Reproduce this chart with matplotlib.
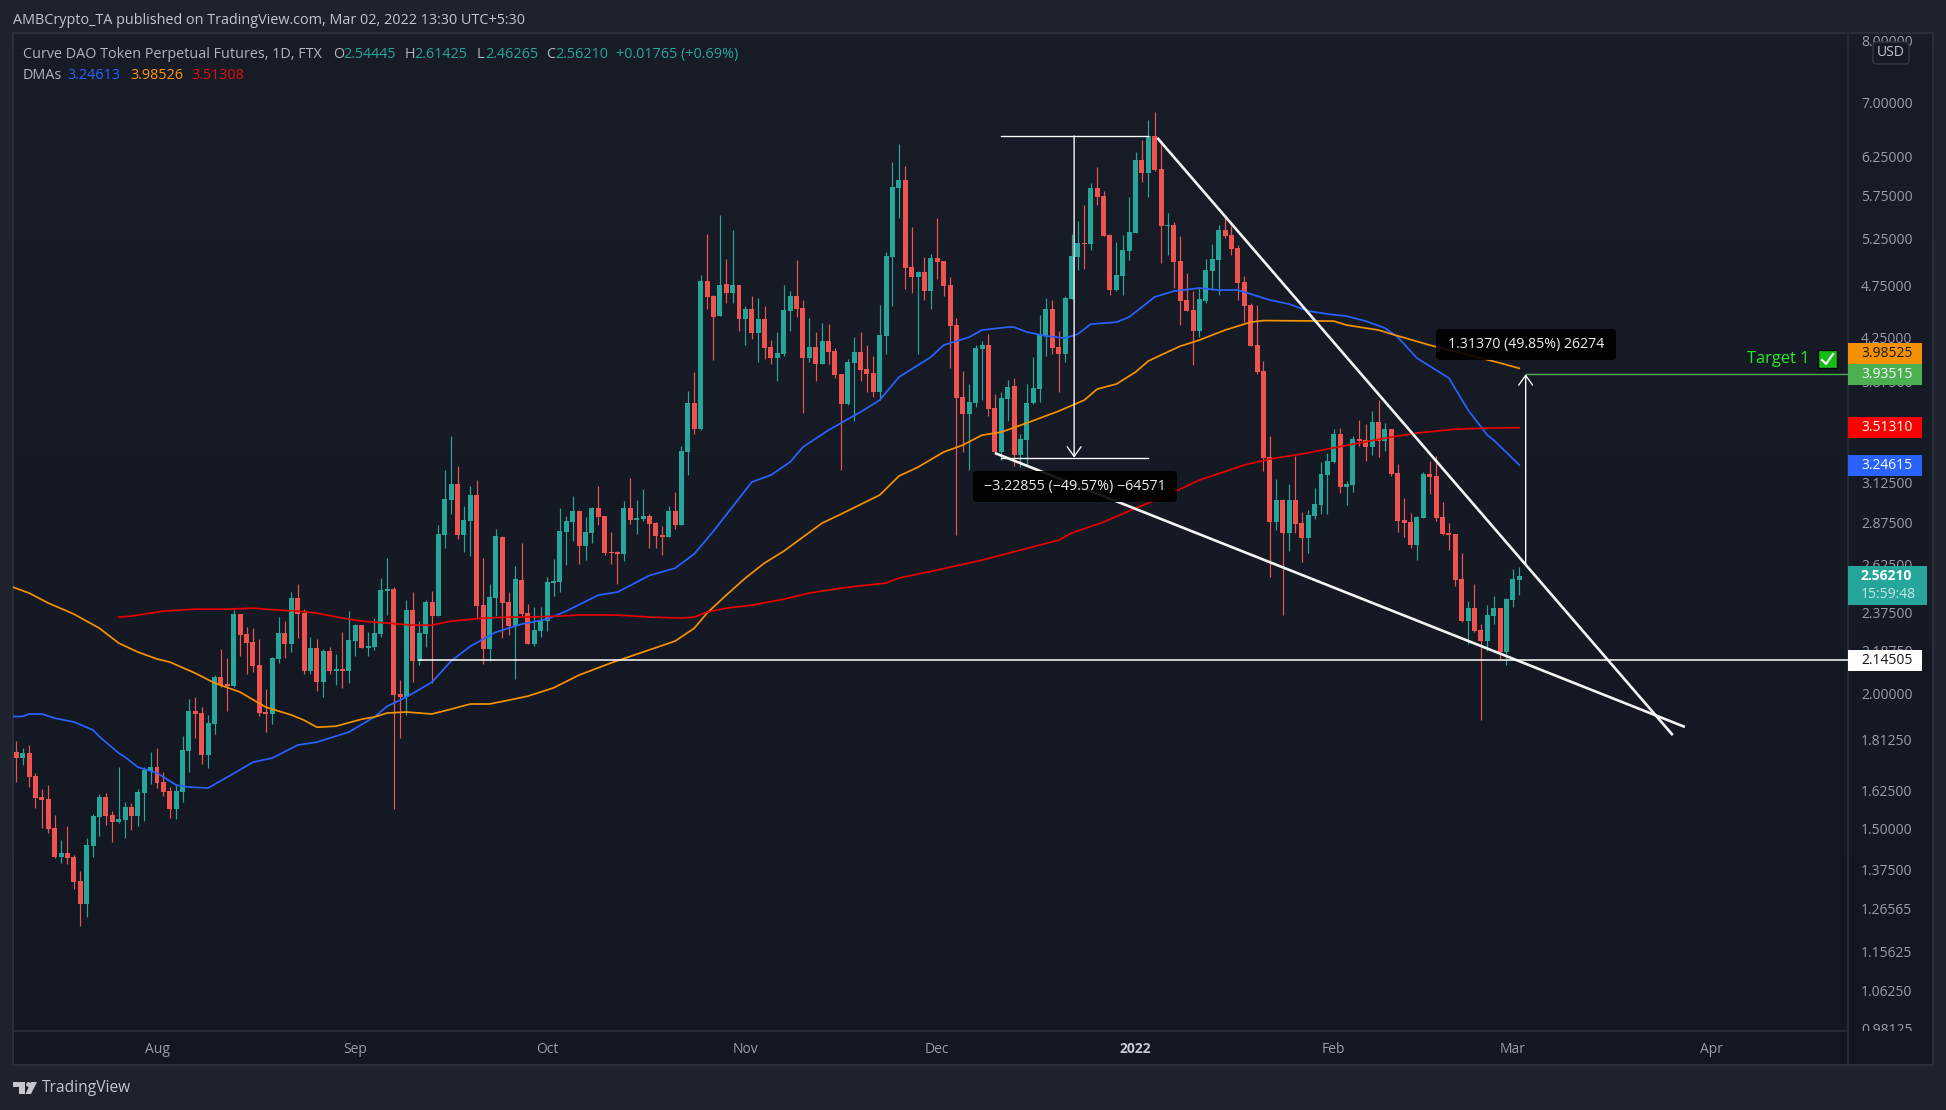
import matplotlib
matplotlib.use("Agg")
import matplotlib.pyplot as plt
from matplotlib.colors import LinearSegmentedColormap
from matplotlib.patches import Rectangle, FancyBboxPatch, Circle, Polygon
from matplotlib.transforms import Bbox
import numpy as np

plt.rcParams['font.family'] = ['Open Sans', 'DejaVu Sans']

# daily candles, 2021-07-10 to 2022-03-02
opens = [
    1.765,1.742,1.761,1.677,1.604,1.597,1.501,1.412,1.424,1.412,
    1.342,1.278,1.445,1.537,1.604,1.544,1.521,1.527,1.570,1.540,
    1.617,1.695,1.709,1.656,1.624,1.563,1.621,1.768,1.925,1.917,
    1.754,1.873,2.069,2.039,2.030,2.365,2.267,2.229,2.122,1.921,
    1.913,2.150,2.272,2.219,2.446,2.370,2.095,2.200,2.047,2.186,
    2.095,2.104,2.095,2.233,2.310,2.200,2.205,2.267,2.484,2.494,
    1.996,1.983,2.385,2.141,2.267,2.426,2.355,2.797,3.013,3.116,
    2.797,2.881,3.045,2.410,2.196,2.446,2.785,2.426,2.305,2.542,
    2.370,2.219,2.281,2.330,2.526,2.531,2.815,2.875,2.943,2.732,
    2.809,2.961,2.912,2.698,2.698,2.687,2.961,2.887,2.893,2.912,
    2.869,2.797,2.785,2.943,2.857,3.336,3.702,3.502,4.796,4.647,
    4.452,4.765,4.676,4.755,4.424,4.520,4.295,4.424,4.169,4.072,
    4.107,4.500,4.647,4.529,4.072,4.169,4.021,4.222,4.133,3.937,
    3.694,4.030,4.125,3.978,3.945,3.789,4.268,5.048,5.844,5.944,
    4.941,4.837,4.889,4.695,5.037,5.004,4.755,4.368,3.749,3.616,
    3.702,4.151,4.186,3.662,3.336,3.733,3.837,3.315,3.422,3.702,
    3.813,4.268,4.520,4.169,4.107,4.617,5.048,5.200,5.189,5.844,
    5.745,5.288,4.705,4.848,5.112,5.311,6.202,6.033,6.526,6.085,
    5.391,5.402,5.004,4.607,4.510,4.313,4.597,4.900,5.015,5.345,
    5.288,5.145,4.785,4.558,4.186,3.962,3.301,2.875,3.013,2.809,
    3.013,2.869,2.779,2.912,2.981,3.177,3.266,3.465,3.097,3.110,
    3.429,3.422,3.372,3.555,3.415,3.502,3.191,2.887,2.875,2.738,
    2.900,3.184,3.170,2.906,2.809,2.802,2.547,2.330,2.395,2.286,
    2.233,2.355,2.395,2.182,2.436,2.544]
highs = [
    1.806,1.780,1.791,1.688,1.631,1.645,1.544,1.464,1.508,1.418,
    1.371,1.470,1.547,1.614,1.617,1.557,1.709,1.587,1.584,1.631,
    1.709,1.765,1.780,1.691,1.638,1.649,1.825,1.975,1.983,1.941,
    1.909,2.078,2.196,2.154,2.385,2.365,2.300,2.295,2.243,2.017,
    2.158,2.350,2.330,2.478,2.520,2.390,2.252,2.243,2.196,2.205,
    2.172,2.276,2.380,2.315,2.310,2.276,2.345,2.553,2.662,2.504,
    2.056,2.436,2.478,2.330,2.436,2.484,2.857,3.211,3.452,3.238,
    2.974,3.103,3.143,2.663,2.520,2.833,2.791,2.478,2.619,2.750,
    2.416,2.400,2.400,2.558,2.657,2.961,2.912,3.038,2.949,2.906,
    2.967,3.103,2.912,2.815,2.703,3.007,3.156,3.013,3.084,2.925,
    2.875,2.851,2.974,3.064,3.379,3.797,3.953,4.858,5.300,4.657,
    5.518,5.026,5.345,4.755,4.548,4.647,4.627,4.548,4.231,4.304,
    4.755,4.695,5.015,4.607,4.434,4.304,4.386,4.377,4.160,3.937,
    4.064,4.258,4.304,4.186,4.090,4.558,5.101,6.175,6.415,6.122,
    5.380,4.900,5.048,5.080,5.483,5.004,4.837,4.434,3.962,3.854,
    4.186,4.222,4.286,3.773,3.789,3.887,3.903,3.465,3.854,4.081,
    4.462,4.627,4.607,4.313,4.647,5.300,5.448,5.637,5.906,6.109,
    5.807,5.300,5.211,5.288,5.733,6.308,6.471,6.752,6.867,6.443,
    5.541,5.437,5.277,4.879,4.695,4.735,5.026,5.189,5.402,5.507,
    5.391,5.178,4.848,4.577,4.558,4.047,3.451,3.150,3.019,3.116,
    3.308,2.937,2.949,3.090,3.266,3.329,3.502,3.510,3.136,3.451,
    3.570,3.540,3.639,3.725,3.547,3.502,3.252,3.026,2.931,2.912,
    3.197,3.273,3.308,3.000,2.869,2.802,2.692,2.431,2.520,2.315,
    2.410,2.456,2.395,2.446,2.602,2.614]
lows = [
    1.656,1.716,1.638,1.567,1.501,1.486,1.409,1.394,1.391,1.320,
    1.219,1.243,1.412,1.476,1.511,1.458,1.518,1.470,1.495,1.508,
    1.524,1.649,1.635,1.608,1.534,1.530,1.587,1.691,1.818,1.720,
    1.705,1.834,2.026,1.925,2.026,2.163,2.082,2.091,1.905,1.841,
    1.873,2.132,2.154,2.182,2.248,2.082,2.082,2.009,1.983,2.082,
    2.034,2.022,2.043,2.163,2.200,2.163,2.191,2.252,2.360,1.563,
    1.818,1.909,2.047,2.122,2.205,2.043,2.355,2.720,2.925,2.773,
    2.698,2.675,2.340,2.127,2.141,2.355,2.248,2.262,2.060,2.355,
    2.219,2.209,2.252,2.281,2.456,2.478,2.624,2.761,2.630,2.652,
    2.750,2.857,2.681,2.630,2.520,2.647,2.863,2.802,2.881,2.720,
    2.720,2.681,2.785,2.833,2.857,3.177,3.465,3.495,4.520,4.055,
    4.452,4.577,4.577,4.313,4.186,4.240,4.038,4.064,4.021,3.879,
    4.090,4.313,4.443,3.624,4.038,3.879,4.021,4.021,3.903,3.211,
    3.686,3.562,3.879,3.789,3.749,3.725,4.107,4.548,5.483,4.715,
    4.676,4.107,4.607,4.520,4.816,4.647,3.987,2.797,3.336,3.211,
    3.670,3.725,3.600,3.329,3.280,3.562,3.238,3.231,3.238,3.694,
    3.710,4.090,4.107,3.789,4.038,4.617,4.910,4.920,5.123,5.637,
    5.277,4.656,4.695,4.656,5.015,5.311,5.919,5.733,6.060,4.984,
    5.069,4.725,4.368,4.500,4.013,4.258,4.577,4.705,4.656,5.255,
    5.069,4.607,4.395,4.177,3.937,3.204,2.558,2.827,2.360,2.703,
    2.809,2.641,2.692,2.893,2.925,2.925,3.259,3.058,2.981,3.064,
    3.379,3.273,3.315,3.301,3.343,3.170,2.815,2.785,2.720,2.652,
    2.900,3.051,2.881,2.797,2.709,2.510,2.325,2.219,2.276,1.888,
    2.186,2.315,2.150,2.122,2.400,2.463]
closes = [
    1.742,1.761,1.673,1.601,1.594,1.498,1.412,1.424,1.409,1.339,
    1.278,1.448,1.540,1.604,1.540,1.521,1.530,1.570,1.540,1.621,
    1.698,1.709,1.652,1.621,1.563,1.624,1.772,1.925,1.913,1.754,
    1.877,2.069,2.034,2.030,2.365,2.262,2.224,2.117,1.917,1.913,
    2.154,2.272,2.219,2.446,2.365,2.095,2.200,2.047,2.186,2.095,
    2.104,2.095,2.238,2.310,2.200,2.209,2.272,2.489,2.494,1.992,
    1.983,2.385,2.141,2.272,2.426,2.355,2.802,3.019,3.116,2.797,
    2.887,3.045,2.405,2.196,2.451,2.791,2.421,2.305,2.547,2.365,
    2.219,2.286,2.335,2.531,2.537,2.821,2.881,2.943,2.732,2.815,
    2.961,2.906,2.692,2.692,2.687,2.961,2.887,2.900,2.912,2.863,
    2.791,2.785,2.943,2.857,3.343,3.702,3.502,4.796,4.637,4.443,
    4.755,4.676,4.755,4.424,4.520,4.295,4.424,4.160,4.072,4.116,
    4.510,4.647,4.520,4.072,4.169,4.021,4.222,4.125,3.929,3.694,
    4.038,4.125,3.970,3.937,3.789,4.277,5.058,5.856,5.944,4.931,
    4.837,4.889,4.695,5.037,4.994,4.745,4.358,3.741,3.616,3.710,
    4.160,4.186,3.655,3.336,3.741,3.829,3.315,3.429,3.702,3.821,
    4.277,4.520,4.160,4.107,4.627,5.058,5.200,5.189,5.844,5.733,
    5.277,4.705,4.858,5.123,5.322,6.202,6.033,6.526,6.072,5.391,
    5.402,4.994,4.597,4.500,4.313,4.617,4.910,5.026,5.345,5.277,
    5.134,4.775,4.548,4.177,3.953,3.294,2.875,3.013,2.809,3.013,
    2.863,2.779,2.918,2.987,3.184,3.273,3.465,3.097,3.116,3.429,
    3.415,3.372,3.555,3.415,3.502,3.184,2.881,2.869,2.738,2.906,
    3.184,3.163,2.900,2.802,2.797,2.542,2.330,2.395,2.281,2.233,
    2.360,2.395,2.182,2.441,2.547,2.562]

# moving averages, (day index, price)
dma50_days = [-1,1,2,4,6,9,12,13,16,17,19,22,25,27,30,33,37,40,44,47,52,56,58,61,65,68,71,75,79,83,86,91,94,99,103,106,109,115,118,121,123,127,132,135,138,143,145,149,151,155,156,158,161,164,166,168,172,174,177,178,181,185,188,191,196,199,202,205,208,211,214,216,219,224,227,230,231,235]
dma50_vals = [1.903,1.903,1.913,1.913,1.896,1.881,1.849,1.823,1.761,1.746,1.709,1.688,1.645,1.638,1.635,1.673,1.727,1.742,1.791,1.802,1.841,1.901,1.945,1.983,2.047,2.141,2.209,2.276,2.315,2.340,2.380,2.462,2.478,2.567,2.607,2.687,2.820,3.130,3.177,3.266,3.372,3.495,3.632,3.725,3.911,4.081,4.186,4.258,4.322,4.349,4.349,4.304,4.268,4.249,4.286,4.377,4.395,4.443,4.587,4.637,4.695,4.725,4.705,4.705,4.607,4.567,4.500,4.472,4.452,4.405,4.340,4.258,4.072,3.903,3.647,3.458,3.422,3.246]
dma100_days = [-1,2,5,9,13,16,19,22,24,28,31,35,39,43,45,47,50,54,56,58,61,65,68,71,74,77,80,84,88,93,98,103,106,108,111,114,117,120,123,126,129,135,138,141,145,148,151,154,158,163,167,169,172,175,177,180,182,185,189,193,195,206,208,213,215,221,232,235]
dma100_vals = [2.510,2.473,2.421,2.365,2.295,2.224,2.182,2.150,2.136,2.086,2.043,2.004,1.941,1.909,1.888,1.860,1.864,1.892,1.901,1.917,1.921,1.913,1.933,1.954,1.954,1.970,1.987,2.022,2.078,2.132,2.182,2.233,2.295,2.370,2.462,2.553,2.636,2.703,2.785,2.869,2.925,3.045,3.170,3.231,3.336,3.386,3.458,3.480,3.548,3.639,3.725,3.813,3.854,3.953,4.047,4.125,4.177,4.231,4.322,4.395,4.410,4.405,4.368,4.322,4.286,4.186,4.030,3.985]
dma200_days = [16,18,23,28,33,37,41,44,47,51,54,58,62,65,68,73,77,80,85,88,94,99,104,106,108,111,115,120,124,129,133,136,138,144,151,157,163,165,170,175,179,185,192,196,201,205,210,215,219,225,230,235]
dma200_vals = [2.350,2.355,2.380,2.390,2.390,2.395,2.385,2.380,2.370,2.345,2.330,2.320,2.310,2.310,2.330,2.345,2.350,2.350,2.355,2.360,2.360,2.350,2.345,2.350,2.375,2.395,2.410,2.441,2.473,2.499,2.515,2.526,2.553,2.597,2.652,2.709,2.767,2.809,2.875,2.961,3.026,3.143,3.245,3.287,3.322,3.357,3.401,3.444,3.473,3.502,3.510,3.513]

# axis ticks
price_ticks = [8.0,7.0,6.25,5.75,5.25,4.75,4.25,3.875,3.5,3.25,3.125,2.875,2.625,2.375,2.1875,2.0,1.8125,1.625,1.5,1.375,1.26565,1.15625,1.0625,0.98125]
month_days = [22,53,83,114,144,175,206,234,265]
month_names = ['Aug','Sep','Oct','Nov','Dec','2022','Feb','Mar','Apr']

# drawings on the chart
upper_line_x, upper_line_y = [178.4,259.0], [6.50,1.829]
lower_line_x, lower_line_y = [153.0,260.9], [3.329,1.861]
support_level = 2.14505
target_level = 3.93515
drop_x, drop_left, drop_right = 165.4, 154, 177
drop_top, drop_bottom = 6.526, 3.297
rise_x, rise_bottom = 236, 2.63

W, H = 1946, 1110
BG = '#1e222d'
PANE = '#151924'
EDGE = '#2a2e39'
TEAL = '#26a69a'
RED = '#ef5350'
GREY = '#b2b5be'
TICK = '#9a9da6'

def px_rect(l, t, r, b):
    return [l/W, 1-b/H, (r-l)/W, (b-t)/H]

fig = plt.figure(figsize=(W/100, H/100), dpi=100, facecolor=BG)

# pane background goes slightly darker towards the bottom
bg = fig.add_axes(px_rect(13,33,1933,1065), zorder=-1, facecolor=PANE)
pane_cmap = LinearSegmentedColormap.from_list('pane', ['#181c27', '#131722'])
bg.imshow(np.linspace(0,1,64).reshape(-1,1), cmap=pane_cmap, aspect='auto')
bg.set_xticks([])
bg.set_yticks([])
for s in bg.spines.values():
    s.set_color(EDGE)
    s.set_linewidth(1.5)

ax = fig.add_axes(px_rect(13,33,1848,1031), facecolor='none')
ax.set_yscale('log')
ax.set_xlim(-0.516,286.4)
ax.set_ylim(0.976,8.12)

x = np.arange(len(closes))
o = np.array(opens)
c = np.array(closes)
cols = [TEAL if cc >= oo else RED for oo,cc in zip(opens,closes)]
ax.vlines(x, lows, highs, colors=cols, lw=0.85, zorder=2)
ax.bar(x, np.abs(c-o), bottom=np.minimum(o,c), width=0.78, color=cols, linewidth=0, zorder=2)

ax.plot(dma50_days, dma50_vals, color='#2962ff', lw=1.25, zorder=3)
ax.plot(dma100_days, dma100_vals, color='#f59100', lw=1.25, zorder=3)
ax.plot(dma200_days, dma200_vals, color='#e60000', lw=1.25, zorder=3)

ax.plot(upper_line_x, upper_line_y, color='#f4f4f4', lw=1.9, zorder=4, solid_capstyle='butt')
ax.plot(lower_line_x, lower_line_y, color='#f4f4f4', lw=1.9, zorder=4, solid_capstyle='butt')
ax.plot([63,286.4], [support_level,support_level], color='white', lw=1.1, zorder=4)
ax.plot([rise_x,286.4], [target_level,target_level], color='#4caf50', lw=1.0, zorder=4)

ax.plot([drop_left,drop_right], [drop_top,drop_top], color='white', lw=0.95, zorder=4)
ax.plot([drop_left,drop_right], [drop_bottom,drop_bottom], color='white', lw=0.95, zorder=4)
ax.annotate('', xy=(drop_x,drop_bottom), xytext=(drop_x,drop_top), zorder=4,
            arrowprops=dict(arrowstyle='->,head_length=0.7,head_width=0.5', color='white', lw=0.95, shrinkA=0, shrinkB=0))
ax.annotate('', xy=(rise_x,target_level), xytext=(rise_x,rise_bottom), zorder=4,
            arrowprops=dict(arrowstyle='->,head_length=0.7,head_width=0.5', color='white', lw=0.95, shrinkA=0, shrinkB=0))

ax.set_yticks(price_ticks)
ax.set_yticklabels(['%.5f' % p for p in price_ticks])
ax.yaxis.set_minor_locator(matplotlib.ticker.NullLocator())
ax.yaxis.tick_right()
ax.tick_params(axis='y', length=0, pad=9.4, labelsize=10, labelcolor=TICK)
ax.set_xticks(month_days)
ax.set_xticklabels(month_names)
ax.tick_params(axis='x', length=0, pad=8, labelsize=10, labelcolor=TICK)
for lab in ax.get_xticklabels():
    if lab.get_text() == '2022':
        lab.set_fontweight('bold')
        lab.set_color('#c8cad0')
for side in ['top','left']:
    ax.spines[side].set_visible(False)
ax.spines['right'].set_color(EDGE)
ax.spines['bottom'].set_color(EDGE)
ax.spines['right'].set_linewidth(1.2)
ax.spines['bottom'].set_linewidth(1.2)

# price labels must not run out of the pane
clip = Bbox([[13,H-1031],[1933,H-33]])
for lab in ax.get_yticklabels():
    lab.set_clip_box(clip)
    lab.set_clip_on(True)

# everything below is placed in image pixels
ov = fig.add_axes([0,0,1,1], zorder=5)
ov.set_xlim(0,W)
ov.set_ylim(H,0)
ov.axis('off')

def txt(px, py, s, color=GREY, size=10, ha='left', **kw):
    ov.text(px, py, s, color=color, fontsize=size, ha=ha, va='center', **kw)

txt(13, 21, 'AMBCrypto_TA published on TradingView.com, Mar 02, 2022 13:30 UTC+5:30', color='#c4c6cc', size=10.4)
txt(23, 54.5, 'Curve DAO Token Perpetual Futures, 1D, FTX', size=10.4)
for px, s in [(333,'O'),(405,'H'),(477,'L'),(546,'C')]:
    txt(px, 54.5, s, size=10.4)
for px, s in [(343,'2.54445'),(414,'2.61425'),(485,'2.46265'),(555,'2.56210'),(616,'+0.01765 (+0.69%)')]:
    txt(px, 54.5, s, color=TEAL, size=10.4)
txt(23, 75.5, 'DMAs', size=10.4)
txt(67, 75.5, '3.24613', color='#2962ff', size=10.4)
txt(130, 75.5, '3.98526', color='#ff9800', size=10.4)
txt(191, 75.5, '3.51308', color='#e01010', size=10.4)

ov.plot([1848,1848], [1031,1065], color=EDGE, lw=1.2)

ov.add_patch(FancyBboxPatch((1873,42), 36, 22, boxstyle='round,pad=0,rounding_size=4', fc=PANE, ec='#343844', lw=1))
txt(1891, 53, 'USD', ha='center', color='#c4c6cc')

# axis labels on the price scale
tags = [(343,364,'#f59100','3.98525','#131722'),
        (364,385,'#4caf50','3.93515','white'),
        (417,438,'#ff0000','3.51310','white'),
        (455,476,'#2962ff','3.24615','white'),
        (650,671,'white','2.14505','#131722')]
for top, bot, fc, s, tc in tags:
    ov.add_patch(Rectangle((1848,top), 74, bot-top, fc=fc, ec='none'))
    txt(1861, (top+bot)/2, s, color=tc)
ov.add_patch(Rectangle((1848,566), 79, 39, fc=TEAL, ec='none'))
txt(1861, 576, '2.56210', color='white', fontweight='bold')
txt(1861, 595, '15:59:48', color='#c3e6e2')

# measure boxes
ov.add_patch(FancyBboxPatch((973,471), 204, 31, boxstyle='round,pad=0,rounding_size=4', fc='black', ec='none', alpha=0.9))
txt(1075, 486.5, '\u22123.22855 (\u221249.57%) \u221264571', ha='center', color='#eeeeee', size=10.3)
ov.add_patch(FancyBboxPatch((1436,329), 180, 31, boxstyle='round,pad=0,rounding_size=4', fc='black', ec='none', alpha=0.9))
txt(1526, 344.5, '1.31370 (49.85%) 26274', ha='center', color='#eeeeee', size=10.2)

# target note
txt(1747, 359, 'Target 1', color='#1fee1f', size=11.8)
ov.add_patch(Rectangle((1818,350), 19, 18, fc='#14bd14', ec='#0a0a0a', lw=1))
ov.plot([1822,1826,1833], [360,364,354], color='white', lw=1.5)

# logo
ov.add_patch(Polygon([(13,1082),(25,1082),(25,1094),(19,1094),(19,1087),(13,1087)], fc='#c4c6cc', ec='none'))
ov.add_patch(Circle((28.5,1084.5), 2.4, fc='#c4c6cc', ec='none'))
ov.add_patch(Polygon([(31,1082),(37,1082),(31,1094),(25.5,1094)], fc='#c4c6cc', ec='none'))
txt(42, 1088, 'TradingView', color='#c4c6cc', size=11.2)

fig.savefig('out.png', dpi=100, facecolor=BG)
